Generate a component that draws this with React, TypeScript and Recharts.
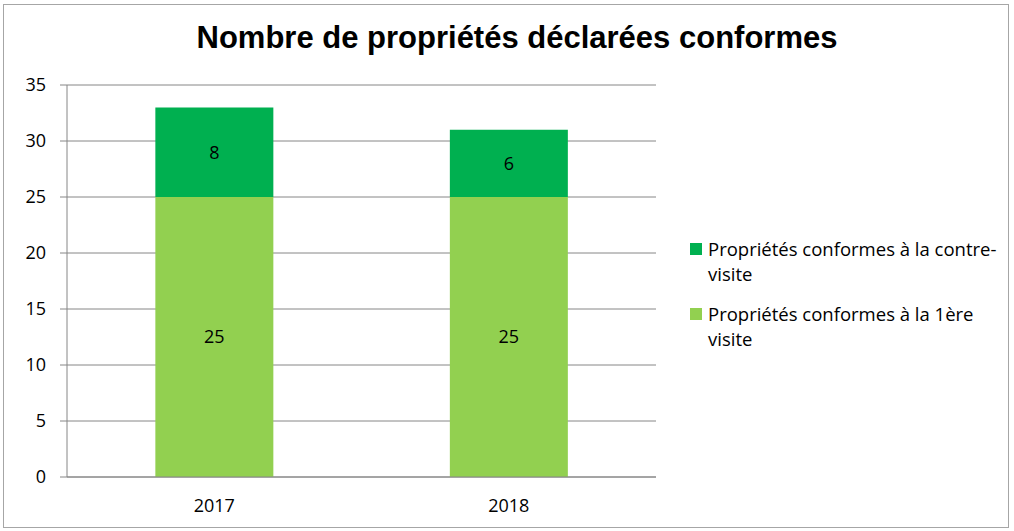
import React from "react";
import { BarChart, Bar, XAxis, YAxis, CartesianGrid, LabelList } from "recharts";

const years = ["2017", "2018"];
const firstVisit = [25, 25];
const counterVisit = [8, 6];
const yTicks = [0, 5, 10, 15, 20, 25, 30, 35];

const seriesFirst = "Propriétés conformes à la 1ère visite";
const seriesCounter = "Propriétés conformes à la contre-visite";

const data = years.map((y, i) => ({ year: y, first: firstVisit[i], counter: counterVisit[i] }));

const DARK = "#00B050";
const LIGHT = "#92D050";
const GRID = "#868686";
const FONT = "'Open Sans', sans-serif";

const legendItems = [
  { color: DARK, lines: ["Propriétés conformes à la contre-", "visite"] },
  { color: LIGHT, lines: ["Propriétés conformes à la 1ère", "visite"] },
];

const LegendBox = () => (
  <div style={{ position: "absolute", left: 690, top: 236, width: 324, fontFamily: FONT, fontSize: 18.5, color: "#000" }}>
    {legendItems.map((it, i) => (
      <div key={i} style={{ position: "relative", paddingLeft: 18, marginBottom: i === 0 ? 15 : 0, lineHeight: "25px", whiteSpace: "nowrap" }}>
        <span style={{ position: "absolute", left: 0, top: 7, width: 12, height: 12, background: it.color }} />
        {it.lines.map((l, j) => (
          <div key={j}>{l}</div>
        ))}
      </div>
    ))}
  </div>
);

export default function App() {
  return (
    <div style={{ position: "absolute", left: 0, top: 0, width: 1014, height: 531, background: "#fff" }}>
      <div
        style={{
          position: "absolute",
          left: 3,
          top: 4,
          width: 1004,
          height: 522,
          border: "1px solid #a6a6a6",
        }}
      />
      <div
        style={{
          position: "absolute",
          left: 0,
          top: 20,
          width: 1034,
          textAlign: "center",
          fontFamily: "'Liberation Sans', Arial, sans-serif",
          fontWeight: "bold",
          fontSize: 31,
          color: "#000",
        }}
      >
        Nombre de propriétés déclarées conformes
      </div>
      <BarChart
        width={1014}
        height={531}
        data={data}
        margin={{ top: 85, right: 358, bottom: 24, left: 0 }}
        barCategoryGap="30%"
        style={{ position: "absolute", left: 0, top: 0 }}
      >
        <CartesianGrid vertical={false} stroke={GRID} />
        <XAxis
          dataKey="year"
          height={30}
          tickLine={false}
          axisLine={{ stroke: GRID }}
          tick={{ fill: "#000", fontSize: 18, fontFamily: FONT }}
          tickMargin={16}
        />
        <YAxis
          width={67}
          domain={[0, 35]}
          ticks={yTicks}
          interval={0}
          tickSize={7}
          tickMargin={14}
          tickLine={{ stroke: GRID }}
          axisLine={{ stroke: GRID }}
          tick={{ fill: "#000", fontSize: 18, fontFamily: FONT }}
        />
        <Bar dataKey="first" name={seriesFirst} stackId="a" fill={LIGHT} isAnimationActive={false}>
          <LabelList dataKey="first" position="center" fill="#000" fontSize={18} fontFamily={FONT} />
        </Bar>
        <Bar dataKey="counter" name={seriesCounter} stackId="a" fill={DARK} isAnimationActive={false}>
          <LabelList dataKey="counter" position="center" fill="#000" fontSize={18} fontFamily={FONT} />
        </Bar>
      </BarChart>
      <LegendBox />
    </div>
  );
}
